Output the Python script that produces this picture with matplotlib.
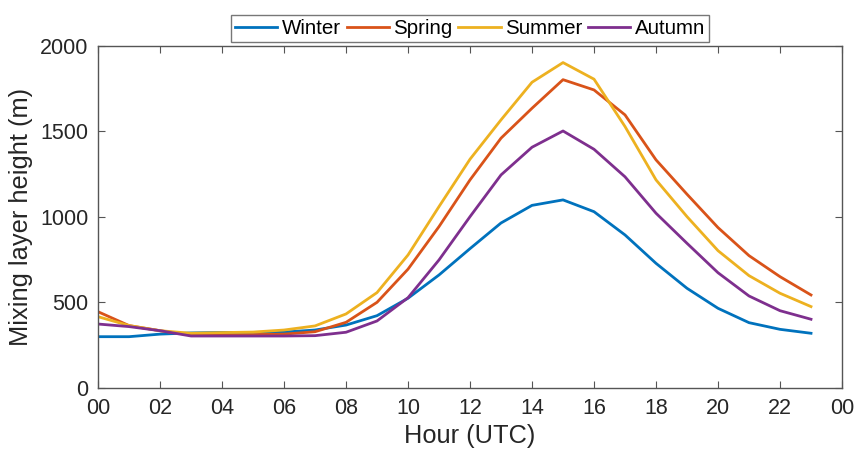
import matplotlib
matplotlib.use("Agg")
import matplotlib.pyplot as plt

plt.rcParams['font.family'] = ['Liberation Sans', 'DejaVu Sans']

hours = list(range(24))
winter = [300, 300, 315, 322, 325, 325, 327, 339, 368, 423, 525, 661, 815, 965, 1068, 1100, 1031, 895, 729, 583, 466, 382, 343, 320]
spring = [446, 365, 335, 310, 310, 312, 315, 329, 384, 501, 695, 944, 1217, 1461, 1636, 1803, 1743, 1597, 1334, 1133, 938, 774, 651, 544]
summer = [417, 365, 335, 320, 324, 327, 339, 363, 433, 558, 778, 1061, 1338, 1568, 1788, 1903, 1806, 1529, 1217, 1002, 803, 657, 554, 476]
autumn = [374, 359, 335, 304, 304, 304, 304, 306, 326, 392, 528, 749, 1002, 1246, 1408, 1503, 1396, 1235, 1022, 846, 674, 538, 452, 402]
series_names = ["Winter", "Spring", "Summer", "Autumn"]
colors = ["#0072BD", "#D95319", "#EDB120", "#7E2F8E"]
xtick_vals = list(range(0, 25, 2))
xtick_labels = ["00", "02", "04", "06", "08", "10", "12", "14", "16", "18", "20", "22", "00"]
ytick_vals = [0, 500, 1000, 1500, 2000]

fig = plt.figure(figsize=(8.57, 4.54), dpi=100)
ax = fig.add_axes([0.1144, 0.1454, 0.8681, 0.7533])

for name, vals, c in zip(series_names, [winter, spring, summer, autumn], colors):
    ax.plot(hours, vals, color=c, lw=2, label=name)

ax.set_xlim(0, 24)
ax.set_ylim(0, 2000)
ax.set_xticks(xtick_vals)
ax.set_xticklabels(xtick_labels)
ax.set_yticks(ytick_vals)
ax.tick_params(direction='in', top=True, right=True, length=5, width=0.8,
               color='#555555', labelsize=15.5, labelcolor='#262626', pad=7)
for s in ax.spines.values():
    s.set_color('#555555')
    s.set_linewidth(1.0)

ax.set_xlabel("Hour (UTC)", fontsize=18.3, color='#262626', labelpad=4)
ax.set_ylabel("Mixing layer height (m)", fontsize=18.3, color='#262626', labelpad=5)

leg = ax.legend(loc='lower center', bbox_to_anchor=(0.5, 1.0), ncol=4, fontsize=14.8,
                frameon=True, fancybox=False, framealpha=1, edgecolor='#777777',
                handlelength=2.05, handletextpad=0.2, columnspacing=0.3,
                borderpad=0.2, borderaxespad=0.2)
leg.get_frame().set_linewidth(1.0)

fig.savefig("out.png", dpi=100)
